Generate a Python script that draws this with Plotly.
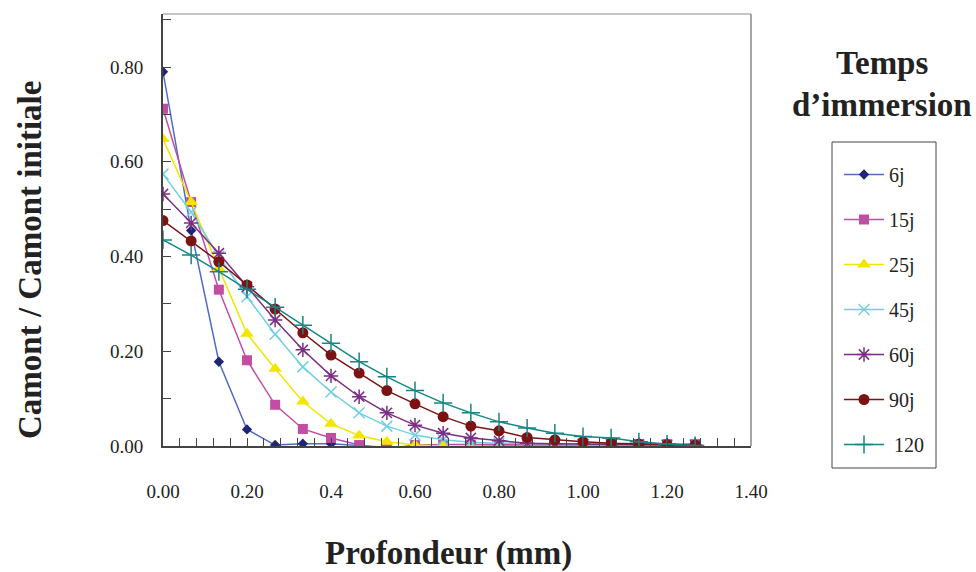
import plotly.graph_objects as go

# depth (mm): 20 sampling points, spacing ~0.0667 mm
depth = [0.0, 0.067, 0.133, 0.2, 0.267, 0.333, 0.4, 0.467, 0.533, 0.6,
         0.667, 0.733, 0.8, 0.867, 0.933, 1.0, 1.067, 1.133, 1.2, 1.267]

s_6j = [0.79, 0.455, 0.178, 0.035, 0.002, 0.005, 0.005, 0.001, -0.003, -0.004,
        -0.002, -0.001, 0.0, 0.0, -0.001, -0.001, 0.0, 0.0, 0.0, 0.0]
s_15j = [0.712, 0.515, 0.33, 0.181, 0.087, 0.036, 0.017, 0.002, -0.006, 0.002,
         0.003, 0.003, 0.004, 0.004, 0.004, 0.003, 0.004, 0.004, 0.004, 0.004]
s_25j = [0.648, 0.515, 0.375, 0.237, 0.163, 0.094, 0.047, 0.022, 0.009, 0.002,
         0.0, -0.001, -0.001, -0.001, -0.001, -0.001, -0.001, -0.001, -0.001, -0.001]
s_45j = [0.574, 0.494, 0.40, 0.315, 0.236, 0.167, 0.114, 0.07, 0.042, 0.023,
         0.013, 0.008, 0.006, 0.005, 0.004, 0.003, 0.003, 0.002, 0.002, 0.002]
s_60j = [0.532, 0.471, 0.407, 0.336, 0.266, 0.203, 0.148, 0.104, 0.07, 0.044,
         0.027, 0.017, 0.011, 0.006, 0.005, 0.004, 0.003, 0.003, 0.002, 0.002]
s_90j = [0.476, 0.433, 0.389, 0.34, 0.289, 0.239, 0.192, 0.154, 0.117, 0.089,
         0.062, 0.042, 0.032, 0.018, 0.013, 0.009, 0.006, 0.004, 0.003, 0.002]
s_120 = [0.435, 0.403, 0.368, 0.331, 0.293, 0.255, 0.217, 0.178, 0.146, 0.117,
         0.091, 0.07, 0.051, 0.038, 0.027, 0.02, 0.017, 0.009, 0.004, 0.001]

names = ["6j", "15j", "25j", "45j", "60j", "90j", " 120"]
series = [s_6j, s_15j, s_25j, s_45j, s_60j, s_90j, s_120]
line_colors = ["#4f6cc4", "#c24ea3", "#f2e600", "#6fd0e2", "#7c2d84", "#7d1212", "#168585"]
marker_colors = ["#1e2575", "#c24ea3", "#f2e600", "#6fd0e2", "#7c2d84", "#7d1212", "#168585"]
symbols = ["diamond", "square", "triangle-up", "x-thin-open", "asterisk-open", "circle", "cross-thin-open"]
sizes = [8, 10, 12, 11, 12, 11, 13]

x_tickvals = [0.0, 0.2, 0.4, 0.6, 0.8, 1.0, 1.2, 1.4]
x_ticktext = ["0.00", "0.20", "0.4", "0.60", "0.80", "1.00", "1.20", "1.40"]
y_tickvals = [0.0, 0.2, 0.4, 0.6, 0.8]
y_ticktext = ["0.00", "0.20", "0.40", "0.60", "0.80"]

FONT = "Liberation Serif"
TXT = "#222222"

fig = go.Figure()
for i, (nm, ys) in enumerate(zip(names, series)):
    open_sym = symbols[i].endswith("open")
    fig.add_trace(go.Scatter(
        x=depth, y=ys, name=nm, mode="lines+markers",
        legendgroup=nm,
        line=dict(color=line_colors[i], width=1.5),
        marker=dict(symbol=symbols[i], size=sizes[i], color=marker_colors[i],
                    line=dict(color=marker_colors[i], width=1.5 if open_sym else 0)),
    ))

W, H = 976, 572
L, R, T, B = 163, 225, 14, 126
pw = W - L - R
ph = H - T - B

def px(xp):
    return (xp - L) / pw

def py(yp):
    return (H - B - yp) / ph

fig.update_layout(
    width=W, height=H,
    margin=dict(l=L, r=R, t=T, b=B),
    paper_bgcolor="white", plot_bgcolor="white",
    font=dict(family=FONT, size=19, color=TXT),
    showlegend=True,
    legend=dict(x=px(839), y=py(155), xanchor="left", yanchor="top",
                borderwidth=0, bgcolor="rgba(0,0,0,0)",
                font=dict(family=FONT, size=20, color=TXT),
                tracegroupgap=16, itemwidth=40),
    xaxis=dict(range=[0, 1.4], tickvals=x_tickvals, ticktext=x_ticktext,
               ticks="inside", ticklen=8, tickcolor="#444444", tickwidth=1,
               minor=dict(dtick=0.04, tick0=0, ticks="inside", ticklen=8,
                          tickcolor="#444444", tickwidth=1),
               showline=True, linecolor="#444444", linewidth=2, mirror=False,
               showgrid=False, zeroline=False, ticklabelstandoff=27,
               tickfont=dict(family=FONT, size=19)),
    yaxis=dict(range=[0, 0.912], tickvals=y_tickvals, ticktext=y_ticktext,
               ticks="inside", ticklen=8, tickcolor="#444444", tickwidth=1,
               minor=dict(dtick=0.1, tick0=0, ticks="inside", ticklen=8,
                          tickcolor="#444444", tickwidth=1),
               showline=True, linecolor="#444444", linewidth=2, mirror=False,
               showgrid=False, zeroline=False, ticklabelstandoff=14,
               tickfont=dict(family=FONT, size=19)),
    shapes=[
        dict(type="line", xref="paper", yref="paper", x0=0, x1=1, y0=1, y1=1,
             line=dict(color="#888888", width=1)),
        dict(type="line", xref="paper", yref="paper", x0=1, x1=1, y0=0, y1=1,
             line=dict(color="#888888", width=1.5)),
        dict(type="rect", xref="paper", yref="paper",
             x0=px(832), x1=px(936), y0=py(468), y1=py(142),
             line=dict(color="#444444", width=1)),
    ],
    annotations=[
        dict(text="<b>Camont / Camont initiale</b>", xref="paper", yref="paper",
             x=px(30), y=py(260), textangle=-90, showarrow=False,
             font=dict(family=FONT, size=33, color=TXT),
             xanchor="center", yanchor="middle"),
        dict(text="<b>Profondeur (mm)</b>", xref="paper", yref="paper",
             x=px(448), y=py(553), showarrow=False,
             font=dict(family=FONT, size=33, color=TXT),
             xanchor="center", yanchor="middle"),
        dict(text="<b>Temps</b>", xref="paper", yref="paper",
             x=px(882), y=py(63), showarrow=False,
             font=dict(family=FONT, size=33, color=TXT),
             xanchor="center", yanchor="middle"),
        dict(text="<b>d’immersion</b>", xref="paper", yref="paper",
             x=px(882), y=py(105), showarrow=False,
             font=dict(family=FONT, size=33, color=TXT),
             xanchor="center", yanchor="middle"),
    ],
)

fig.write_html("out.html", config={"displayModeBar": False},
               post_script="document.body.style.margin='0px';")
